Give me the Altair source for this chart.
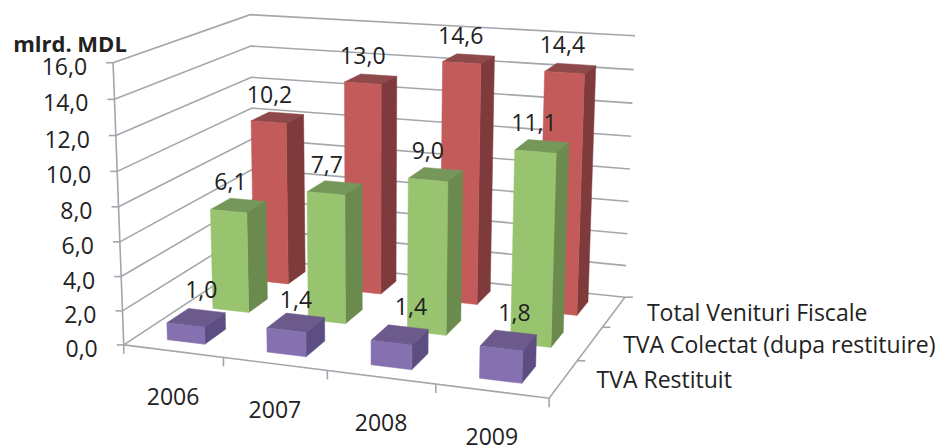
import numpy as np
import pandas as pd
import altair as alt

years = ["2006", "2007", "2008", "2009"]
series = ["TVA Restituit", "TVA Colectat (dupa restituire)", "Total Venituri Fiscale"]
restituit = [1.0, 1.4, 1.4, 1.8]
colectat = [6.1, 7.7, 9.0, 11.1]
total = [10.2, 13.0, 14.6, 14.4]
rows = [restituit, colectat, total]
h_ticks = [0, 2, 4, 6, 8, 10, 12, 14, 16]

front = ["#8570B0", "#98C46F", "#C45B5B"]
side = ["#5C4E82", "#6A8A4E", "#7F3A3C"]
top = ["#6D5A8C", "#75985A", "#8E4A4A"]
GRID = "#A3A6AC"
TEXT = "#222222"
FONT = "Open Sans"
# hand nudges of the low row's value labels, as placed in the picture
low_label_dx = [13, 8, 19, 14]
low_label_dy = [-5, 0, -5, -4]

# calibration of the picture's 3D view: (category, depth, value) -> pixel, weight
calib = [
    (0,0,0,124,344,3),(0,0,2,122.5,310,1),(0,0,4,121.5,276,1),(0,0,6,120.5,242,1),(0,0,8,120,207,1),
    (0,0,10,118,172,1),(0,0,12,117,136,1),(0,0,14,115,99,1),(0,0,16,113,62,3),
    (0,3,16,250,15,3),(0,3,14,250,46,1),(0,3,12,251,77,1),(0,3,10,252,108,1),
    (4,3,0,625,297,4),(4,3,2,626,265,1),(4,3,4,627,233,1),(4,3,6,629,201,1),(4,3,8,631,168,1),
    (4,3,10,632,136,1),(4,3,12,633,103,1),(4,3,14,634,69,1),(4,3,16,635,36,5),
    (1,0,0,223,359,2),(2,0,0,327,373,2),(3,0,0,436,386,2),(4,0,0,549,398,6),
    (4,1,0,577,361,1),(4,2,0,603,327,1),
]
A = []
for u, v, h, px, py, wt in calib:
    p = [u, v, h / 4, 1]
    sx, sy = px / 500, py / 500
    A.append([wt * c for c in p + [0, 0, 0, 0] + [-sx * c for c in p]])
    A.append([wt * c for c in [0, 0, 0, 0] + p + [-sy * c for c in p]])
CAM = np.linalg.svd(np.array(A))[2][-1].reshape(3, 4)


def proj(u, v, h):
    x, y, w = CAM @ np.array([u, v, h / 4, 1])
    return 500 * x / w, 500 * y / w


W, H = 930, 439
xs = alt.Scale(domain=[8, 8 + W], range=[0, W], nice=False, zero=False)
ys = alt.Scale(domain=[8, 8 + H], range=[0, H], nice=False, zero=False)
X = alt.X("x:Q", scale=xs, axis=None)
Y = alt.Y("y:Q", scale=ys, axis=None)


def path(pts, **mk):
    df = pd.DataFrame({"x": [p[0] for p in pts], "y": [p[1] for p in pts], "o": range(len(pts))})
    return alt.Chart(df).mark_line(**mk).encode(x=X, y=Y, order="o:Q")


def line(pts):
    return path(pts, stroke=GRID, strokeWidth=1.6)


def poly(pts, color):
    return path(list(pts) + [pts[0]], fill=color, stroke=color, strokeWidth=0.5)


def text(x, y, s, size=23, align="center", weight="normal"):
    df = pd.DataFrame({"x": [x], "y": [y], "t": [s]})
    return alt.Chart(df).mark_text(
        font=FONT, fontSize=size, align=align, baseline="middle", color=TEXT, fontWeight=weight
    ).encode(x=X, y=Y, text="t:N")


layers = []
# walls
for h in h_ticks:
    layers.append(line([proj(0, 0, h), proj(0, 3, h), proj(4, 3, h)]))
    a = proj(0, 0, h)
    layers.append(line([a, (a[0] - 7, a[1])]))
# axes
layers.append(line([proj(0, 0, 0), proj(0, 0, 16)]))
layers.append(line([proj(0, 0, 0), proj(4, 0, 0), proj(4, 3, 0)]))
for i in range(5):
    a = proj(i, 0, 0)
    layers.append(line([a, (a[0], a[1] + 9)]))
for k in range(1, 4):
    a = proj(4, k, 0)
    layers.append(line([a, (a[0] + 8, a[1])]))

# bars
BU, BV = 0.31, 0.27
labels = []
for k in [2, 1, 0]:
    for i in range(4):
        val = rows[k][i]
        u0, u1 = i + BU, i + 1 - BU
        v0, v1 = k + BV, k + 1 - BV
        layers.append(poly([proj(u0, v0, val), proj(u1, v0, val), proj(u1, v1, val), proj(u0, v1, val)], top[k]))
        layers.append(poly([proj(u1, v0, 0), proj(u1, v1, 0), proj(u1, v1, val), proj(u1, v0, val)], side[k]))
        layers.append(poly([proj(u0, v0, 0), proj(u1, v0, 0), proj(u1, v0, val), proj(u0, v0, val)], front[k]))
        c = proj((u0 + u1) / 2, (v0 + v1) / 2, val)
        dx = low_label_dx[i] if k == 0 else 0
        dy = low_label_dy[i] if k == 0 else 0
        labels.append(text(c[0] - 8 + dx, c[1] - 22 + dy, f"{val:.1f}".replace(".", ",")))
layers += labels

for h in h_ticks:
    a = proj(0, 0, h)
    layers.append(text(a[0] - 26, a[1] + 5, f"{h:.1f}".replace(".", ","), align="right"))
for i, y in enumerate(years):
    a = proj(i + 0.5, 0, 0)
    layers.append(text(a[0], a[1] + 47, y))
for k, s in enumerate(series):
    a = proj(4, k + 0.5, 0)
    layers.append(text(a[0] + 33, a[1] + 2, s, size=23, align="left"))
layers.append(text(70, 45, "mlrd. MDL", size=22, weight="bold"))

chart = alt.layer(*layers).properties(width=W, height=H, padding=0, autosize=alt.AutoSizeParams(type="none")).configure_view(stroke=None)
chart.save("out.html", embed_options={"renderer": "svg", "actions": False})
